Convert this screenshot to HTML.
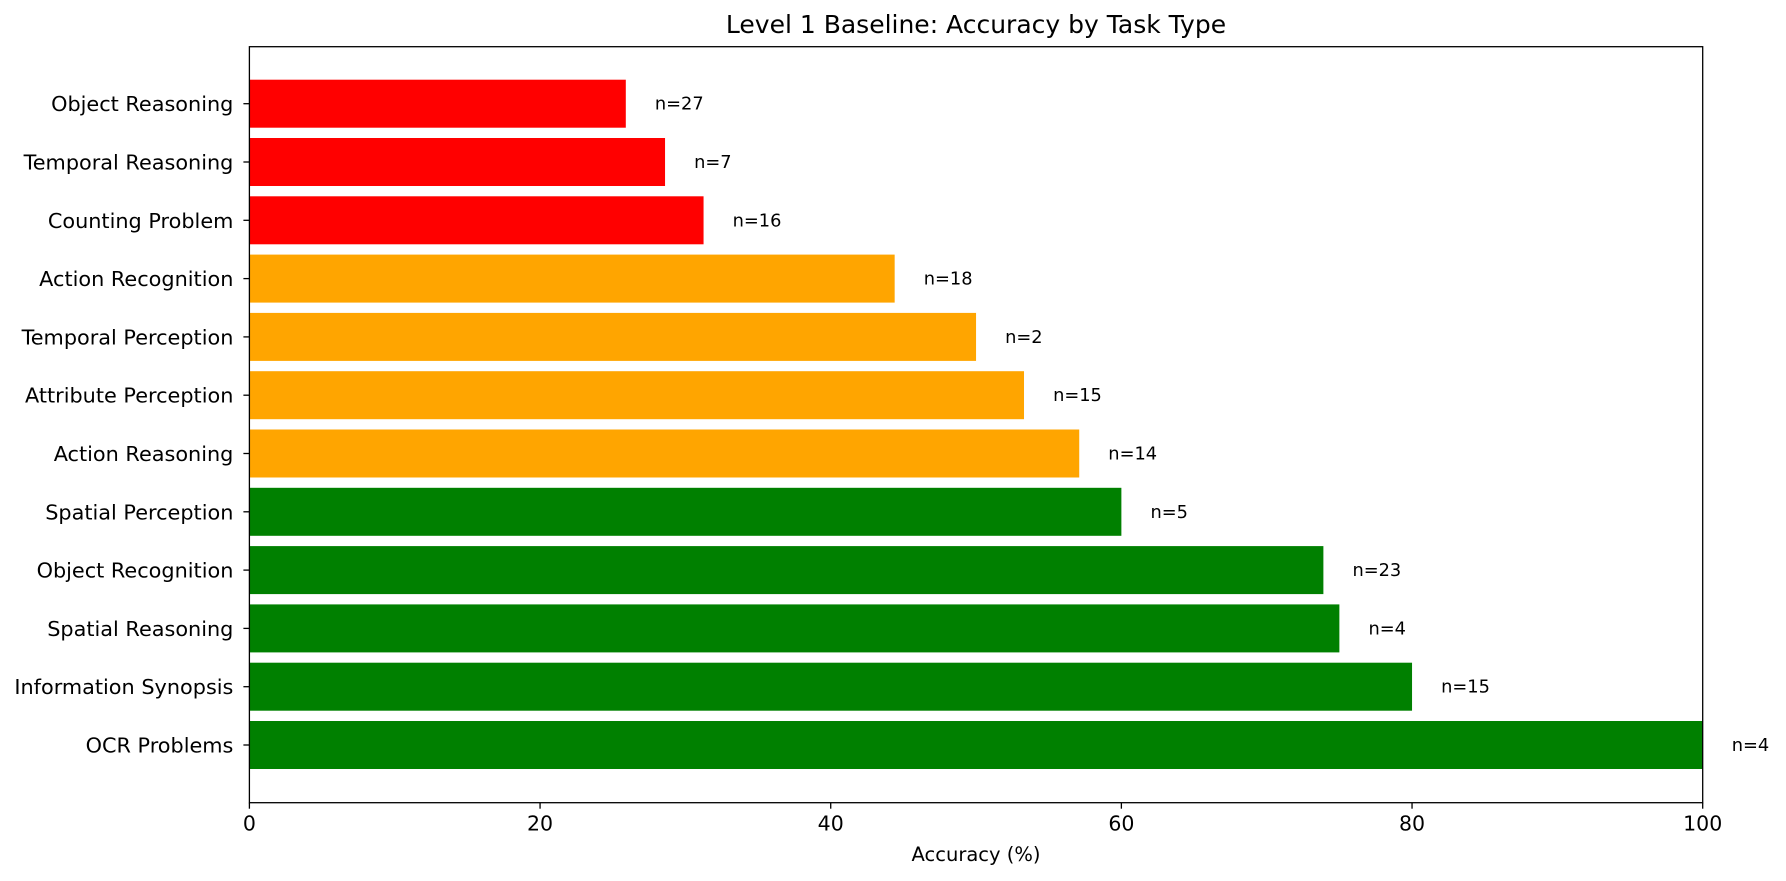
<!DOCTYPE html>
<html><head><meta charset="utf-8"><style>html,body{margin:0;padding:0;background:#fff}svg{display:block;font-family:"DejaVu Sans","Liberation Sans",sans-serif}</style></head>
<body>
<svg id="chart" width="1786" height="881" viewBox="0 0 1786 881" xmlns="http://www.w3.org/2000/svg">
<rect width="1786" height="881" fill="#fff"/>
<text x="976" y="33" font-size="25" text-anchor="middle">Level 1 Baseline: Accuracy by Task Type</text>
<g id="bars"></g>
<g id="axes"></g>
<text x="976" y="861" font-size="19.5" text-anchor="middle">Accuracy (%)</text>
</svg>
<script>
const categories=["Object Reasoning","Temporal Reasoning","Counting Problem","Action Recognition","Temporal Perception","Attribute Perception","Action Reasoning","Spatial Perception","Object Recognition","Spatial Reasoning","Information Synopsis","OCR Problems"];
const accuracy=[25.9,28.6,31.25,44.4,50,53.3,57.1,60,73.9,75,80,100];
const counts=[27,7,16,18,2,15,14,5,23,4,15,4];
const xTicks=[0,20,40,60,80,100];
const NS="http://www.w3.org/2000/svg";
const L=249.4,R=1702.7,T=46.7,B=802.7;
const x=v=>L+(R-L)*v/100;
const spacing=(745-103.7)/11;
const y=i=>103.7+i*spacing;
const bh=48;
function colorFor(v){return v<40?"#ff0000":(v<60?"#ffa500":"#008000");}
const bars=document.getElementById("bars"),axes=document.getElementById("axes");
function mk(tag,attrs,parent){const e=document.createElementNS(NS,tag);for(const k in attrs)e.setAttribute(k,attrs[k]);parent.appendChild(e);return e;}
categories.forEach((c,i)=>{
  const r=mk("rect",{x:L,y:y(i)-bh/2,width:x(accuracy[i])-L,height:bh,fill:colorFor(accuracy[i])},bars);
  
  
  const t=mk("text",{x:x(accuracy[i]+2),y:y(i)+6,"font-size":"17.8"},bars);
  t.textContent="n="+counts[i];
  
  
  const tk=mk("line",{x1:L-6,x2:L,y1:y(i),y2:y(i),stroke:"#000","stroke-width":"1.3"},axes);
  
  
  const tl=mk("text",{x:L-16,y:y(i)+7.5,"font-size":"20.8","text-anchor":"end"},axes);
  tl.textContent=c;
  
  
});
xTicks.forEach(v=>{
  const tk=mk("line",{x1:x(v),x2:x(v),y1:B,y2:B+6,stroke:"#000","stroke-width":"1.3"},axes);
  
  
  const tl=mk("text",{x:x(v),y:B+28,"font-size":"20.5","text-anchor":"middle"},axes);
  tl.textContent=v;
  
  
});
const frame=mk("rect",{x:L,y:T,width:R-L,height:B-T,fill:"none",stroke:"#000","stroke-width":"1.3"},axes);


</script>
</body></html>
